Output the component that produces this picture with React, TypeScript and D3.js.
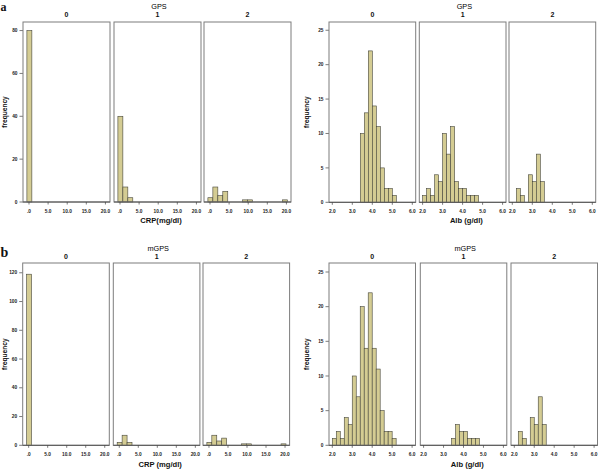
import React from "react";
import * as d3 from "d3";

// ---------- data ----------
const panelLabels = ["0", "1", "2"];

const crpTicks = [0, 5, 10, 15, 20];
const crpTickLabels = [".0", "5.0", "10.0", "15.0", "20.0"];
const albTicks = [2, 3, 4, 5, 6];
const albTickLabels = ["2.0", "3.0", "4.0", "5.0", "6.0"];

const crpBinStart = -0.55;
const crpBinWidth = 1.3;
const albBinStart = 2.0;
const albBinWidth = 0.2;

// CRP histograms (counts per bin)
const gpsCrp0 = [80];
const gpsCrp1 = [40, 7, 2];
const gpsCrp2 = [2, 7, 3, 5, 0, 0, 0, 1, 1, 0, 0, 0, 0, 0, 0, 1];
const mgpsCrp0 = [119];
const mgpsCrp1 = [2, 7, 2];
const mgpsCrp2 = [2, 7, 3, 5, 0, 0, 0, 1, 1, 0, 0, 0, 0, 0, 0, 1];

// Albumin histograms (counts per bin)
const gpsAlb0 = [0, 0, 0, 0, 0, 0, 0, 10, 13, 22, 14, 11, 5, 2, 2, 1];
const gpsAlb1 = [1, 2, 1, 4, 3, 10, 7, 11, 3, 2, 2, 1, 1, 1];
const gpsAlb2 = [0, 2, 1, 0, 4, 3, 7, 3];
const mgpsAlb0 = [1, 2, 1, 4, 3, 10, 7, 20, 14, 22, 14, 11, 5, 2, 2, 1];
const mgpsAlb1 = [0, 0, 0, 0, 0, 0, 0, 1, 3, 2, 2, 1, 1, 1];
const mgpsAlb2 = [0, 2, 1, 0, 4, 3, 7, 3];

const crpYTicksA = [0, 20, 40, 60, 80];
const crpYTicksB = [0, 20, 40, 60, 80, 100, 120];
const albYTicks = [0, 5, 10, 15, 20, 25];

// ---------- style ----------
const FONT = "'Liberation Sans', Arial, sans-serif";
const BAR_FILL = "#d4cc93";
const BAR_STROKE = "#45453a";
const FRAME = "#7d7d7d";

type GroupProps = {
  lefts: number[];
  width: number;
  top: number;
  bottom: number;
  yMax: number;
  yTicks: number[];
  xDomain: [number, number];
  xTicks: number[];
  xTickLabels: string[];
  binStart: number;
  binWidth: number;
  series: number[][];
  header: string;
  headerY: number;
  panelY: number;
  xTitle: string;
  xTitleY: number;
  freqX: number;
};

function Group(p: GroupProps) {
  const y = d3.scaleLinear().domain([0, p.yMax]).range([p.bottom, p.top]);
  const groupCenter = (p.lefts[0] + p.lefts[2] + p.width) / 2;
  return (
    <g>
      <text x={groupCenter + 2} y={p.headerY} fontSize={7.3} fontFamily={FONT} textAnchor="middle" fill="#000">
        {p.header}
      </text>
      <text
        transform={`translate(${p.freqX},${(p.top + p.bottom) / 2}) rotate(-90)`}
        fontSize={6.6}
        fontWeight="bold"
        fontFamily={FONT}
        textAnchor="middle"
        fill="#111"
      >
        frequency
      </text>
      {p.yTicks.map((t) => (
        <g key={"yt" + t}>
          <line x1={p.lefts[0] - 3.5} x2={p.lefts[0]} y1={y(t)} y2={y(t)} stroke="#444" strokeWidth={0.7} />
          <text x={p.lefts[0] - 5.5} y={y(t) + 1.7} fontSize={4.8} fontWeight="bold" fontFamily={FONT} textAnchor="end" fill="#222">
            {String(t)}
          </text>
        </g>
      ))}
      {p.series.map((counts, i) => {
        const left = p.lefts[i];
        const x = d3.scaleLinear().domain(p.xDomain).range([left, left + p.width]);
        return (
          <g key={"p" + i}>
            <text x={left + p.width / 2} y={p.panelY} fontSize={7} fontWeight="bold" fontFamily={FONT} textAnchor="middle" fill="#111">
              {panelLabels[i]}
            </text>
            {counts.map((c, k) =>
              c > 0 ? (
                <rect
                  key={k}
                  x={x(p.binStart + k * p.binWidth)}
                  width={x(p.binStart + (k + 1) * p.binWidth) - x(p.binStart + k * p.binWidth)}
                  y={y(c)}
                  height={y(0) - y(c)}
                  fill={BAR_FILL}
                  stroke={BAR_STROKE}
                  strokeWidth={0.6}
                />
              ) : null
            )}
            <rect x={left} y={p.top} width={p.width} height={p.bottom - p.top} fill="none" stroke={FRAME} strokeWidth={1} />
            <line x1={left} x2={left + p.width} y1={p.bottom} y2={p.bottom} stroke="#555" strokeWidth={1} />
            {p.xTicks.map((t, j) => (
              <g key={"xt" + j}>
                <line x1={x(t)} x2={x(t)} y1={p.bottom} y2={p.bottom + 2.5} stroke="#444" strokeWidth={0.7} />
                <text x={x(t)} y={p.bottom + 11} fontSize={4.8} fontWeight="bold" fontFamily={FONT} textAnchor="middle" fill="#222">
                  {p.xTickLabels[j]}
                </text>
              </g>
            ))}
          </g>
        );
      })}
      <text x={groupCenter + 4} y={p.xTitleY} fontSize={7.6} fontWeight={600} fontFamily={FONT} textAnchor="middle" fill="#111">
        {p.xTitle}
      </text>
    </g>
  );
}

export default function App() {
  const crpDomain: [number, number] = [-1.57, 21.2];
  const albDomain: [number, number] = [1.835, 6.17];
  return (
    <svg width={600} height={469} style={{ position: "absolute", left: 0, top: 0, background: "#fff" }}>
      <rect width={600} height={469} fill="#fff" />
      <text x={0.5} y={10.8} fontSize={12} fontWeight="bold" fontFamily="'Liberation Serif', serif" fill="#111">a</text>
      <text x={0.5} y={256.8} fontSize={14} fontWeight="bold" fontFamily="'Liberation Serif', serif" fill="#111">b</text>

      <Group
        lefts={[23, 114, 204]} width={87} top={22} bottom={202}
        yMax={84} yTicks={crpYTicksA}
        xDomain={crpDomain} xTicks={crpTicks} xTickLabels={crpTickLabels}
        binStart={crpBinStart} binWidth={crpBinWidth}
        series={[gpsCrp0, gpsCrp1, gpsCrp2]}
        header="GPS" headerY={8.5} panelY={17.3}
        xTitle="CRP(mg/dl)" xTitleY={223} freqX={7}
      />
      <Group
        lefts={[329, 419.3, 509]} width={86.7} top={22} bottom={202.3}
        yMax={26.2} yTicks={albYTicks}
        xDomain={albDomain} xTicks={albTicks} xTickLabels={albTickLabels}
        binStart={albBinStart} binWidth={albBinWidth}
        series={[gpsAlb0, gpsAlb1, gpsAlb2]}
        header="GPS" headerY={8.5} panelY={17.3}
        xTitle="Alb (g/dl)" xTitleY={223} freqX={309}
      />
      <Group
        lefts={[22.7, 113.3, 203]} width={86.6} top={263} bottom={445.3}
        yMax={126.8} yTicks={crpYTicksB}
        xDomain={crpDomain} xTicks={crpTicks} xTickLabels={crpTickLabels}
        binStart={crpBinStart} binWidth={crpBinWidth}
        series={[mgpsCrp0, mgpsCrp1, mgpsCrp2]}
        header="mGPS" headerY={250.7} panelY={259.3}
        xTitle="CRP (mg/dl)" xTitleY={466.5} freqX={7}
      />
      <Group
        lefts={[329, 420.3, 511]} width={86.5} top={263} bottom={445.3}
        yMax={26.3} yTicks={albYTicks}
        xDomain={albDomain} xTicks={albTicks} xTickLabels={albTickLabels}
        binStart={albBinStart} binWidth={albBinWidth}
        series={[mgpsAlb0, mgpsAlb1, mgpsAlb2]}
        header="mGPS" headerY={250.7} panelY={259.3}
        xTitle="Alb (g/dl)" xTitleY={466.5} freqX={309}
      />
    </svg>
  );
}
